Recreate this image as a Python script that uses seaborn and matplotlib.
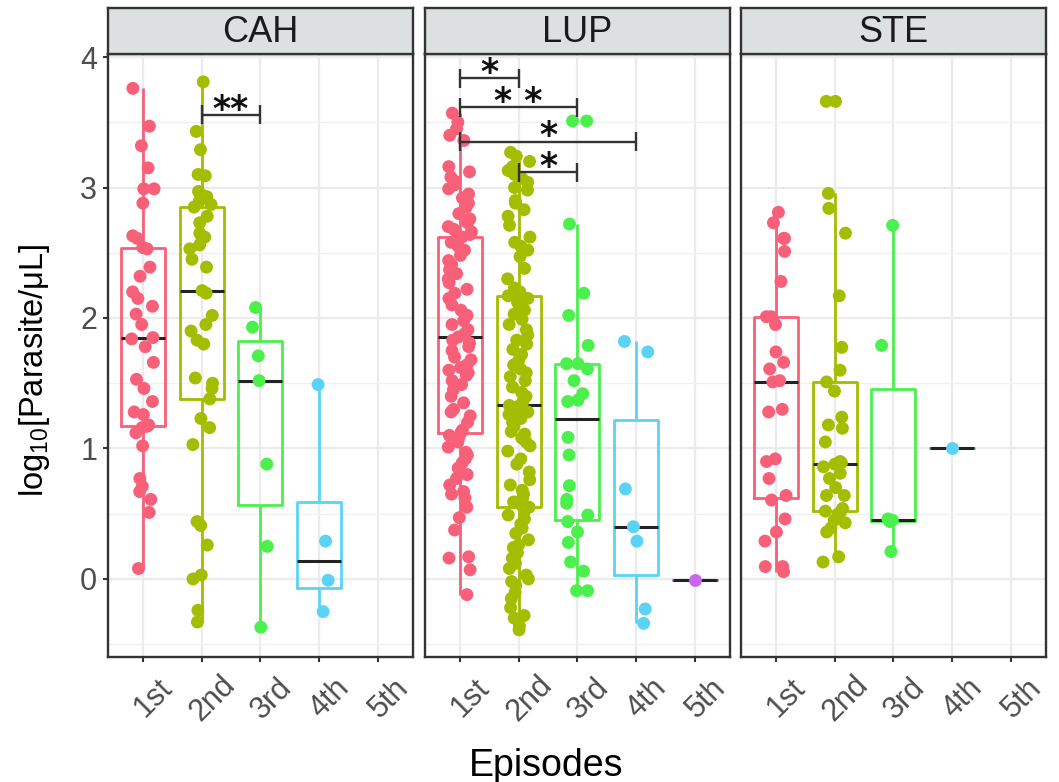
import numpy as np
import pandas as pd
import matplotlib
matplotlib.use("Agg")
import matplotlib.pyplot as plt
import seaborn as sns
from matplotlib.transforms import ScaledTranslation

# ---------------- data ----------------
panels = ["CAH", "LUP", "STE"]
episodes = ["1st", "2nd", "3rd", "4th", "5th"]
colors = ["#F8607A", "#A3BE00", "#4CF04C", "#5BD3F7", "#CB66F0"]

cah_1st = [3.76, 3.47, 3.32, 3.15, 2.99, 2.99, 2.88, 2.63, 2.61, 2.54, 2.53, 2.39, 2.32,
           2.20, 2.15, 2.09, 2.03, 1.95, 1.85, 1.84, 1.78, 1.66, 1.53, 1.46, 1.36, 1.28,
           1.26, 1.18, 1.17, 1.16, 1.12, 1.02, 0.77, 0.71, 0.67, 0.61, 0.51, 0.08]
cah_2nd = [3.81, 3.43, 3.29, 3.10, 3.09, 2.97, 2.95, 2.93, 2.90, 2.87, 2.85, 2.78, 2.73,
           2.65, 2.62, 2.61, 2.56, 2.53, 2.45, 2.39, 2.21, 2.19, 2.02, 1.95, 1.90, 1.83,
           1.80, 1.54, 1.50, 1.46, 1.38, 1.23, 1.16, 1.03, 0.44, 0.41, 0.26, 0.03, 0.00,
           -0.24, -0.33]
cah_3rd = [2.08, 1.93, 1.71, 1.52, 0.88, 0.25, -0.37]
cah_4th = [1.49, 0.29, -0.01, -0.25]
cah_5th = []

lup_1st = [-0.12, 0.07, 0.16, 0.17, 0.375, 0.47, 0.55, 0.62, 0.65, 0.67, 0.72, 0.77, 0.80,
           0.85, 0.89, 0.92, 0.95, 0.97, 1.01, 1.05, 1.09, 1.10, 1.12,
           1.14, 1.20, 1.25, 1.28, 1.30, 1.35, 1.40, 1.45, 1.49, 1.52, 1.56, 1.58, 1.60,
           1.62, 1.64, 1.68, 1.70, 1.75, 1.78, 1.81, 1.83, 1.855,
           1.88, 1.91, 1.95, 1.98, 2.02, 2.06, 2.10, 2.15, 2.19, 2.22, 2.27, 2.30, 2.34,
           2.37, 2.41, 2.44, 2.48, 2.52, 2.55, 2.58, 2.60, 2.62,
           2.64, 2.66, 2.68, 2.70, 2.73, 2.76, 2.80, 2.85, 2.88, 2.92, 2.95, 2.99, 3.02,
           3.05, 3.08, 3.12, 3.16, 3.36, 3.40, 3.45, 3.50, 3.57]
lup_2nd = [-0.39, -0.36, -0.30, -0.28, -0.22, -0.15, -0.10, -0.05, -0.02, 0.00, 0.03, 0.08,
           0.12, 0.16, 0.20, 0.24, 0.26, 0.30, 0.35, 0.39, 0.42, 0.46, 0.49, 0.52, 0.55,
           0.57, 0.59, 0.62, 0.65, 0.68, 0.72, 0.76, 0.82, 0.88, 0.92, 0.98, 1.02, 1.05,
           1.08, 1.11, 1.13, 1.17, 1.20, 1.23, 1.26, 1.28, 1.30, 1.32, 1.33,
           1.36, 1.40, 1.43, 1.47, 1.52, 1.55, 1.58, 1.61, 1.64, 1.68, 1.72, 1.76, 1.80,
           1.83, 1.87, 1.91, 1.95, 1.99, 2.03, 2.06, 2.09, 2.12, 2.15, 2.17,
           2.20, 2.23, 2.30, 2.38, 2.47, 2.52, 2.55, 2.58, 2.62, 2.71, 2.78, 2.83, 2.88,
           2.90, 2.98, 3.00, 3.04, 3.07, 3.10, 3.13, 3.16, 3.20, 3.24, 3.27]
lup_3rd = [3.51, 3.51, 2.72, 2.19, 2.02, 1.79, 1.65, 1.65, 1.61, 1.52, 1.42, 1.37, 1.36,
           1.085, 0.95, 0.715, 0.61, 0.58, 0.49, 0.44, 0.36, 0.28, 0.13, 0.06, -0.09, -0.09]
lup_4th = [1.82, 1.74, 0.69, 0.40, 0.29, -0.23, -0.34]
lup_5th = [-0.01]

ste_1st = [2.81, 2.73, 2.61, 2.61, 2.51, 2.28, 2.01, 2.01, 1.95, 1.74, 1.66, 1.61, 1.52,
           1.51, 1.30, 1.28, 0.92, 0.90, 0.77, 0.64, 0.605, 0.46, 0.36, 0.29, 0.095,
           0.095, 0.056]
ste_2nd = [0.13, 0.17, 0.36, 0.39, 0.43, 0.45, 0.50, 0.51, 0.52, 0.54, 0.64, 0.64, 0.70,
           0.77, 0.81, 0.86, 0.88, 0.89, 0.90, 1.05, 1.155, 1.18, 1.24, 1.44, 1.51, 1.60,
           1.775, 2.17, 2.65, 2.84, 2.955, 3.66, 3.66]
ste_3rd = [0.21, 0.44, 0.45, 0.46, 1.79, 2.71]
ste_4th = [1.00]
ste_5th = []

groups = {
    "CAH": [cah_1st, cah_2nd, cah_3rd, cah_4th, cah_5th],
    "LUP": [lup_1st, lup_2nd, lup_3rd, lup_4th, lup_5th],
    "STE": [ste_1st, ste_2nd, ste_3rd, ste_4th, ste_5th],
}

# significance brackets
br_panel = ["CAH", "LUP", "LUP", "LUP", "LUP"]
br_from = ["2nd", "1st", "1st", "1st", "2nd"]
br_to = ["3rd", "2nd", "3rd", "4th", "3rd"]
br_y = [3.556, 3.837, 3.615, 3.35, 3.116]
br_label = ["**", "*", "* *", "*", "*"]

rows = []
for p in panels:
    for ep, vals in zip(episodes, groups[p]):
        for v in vals:
            rows.append((p, ep, v))
df = pd.DataFrame(rows, columns=["panel", "episode", "value"])
palette = dict(zip(episodes, colors))

# ---------------- style ----------------
sns.set_style("white")
plt.rcParams["font.family"] = ["Liberation Sans", "DejaVu Sans"]
plt.rcParams["mathtext.fontset"] = "custom"
plt.rcParams["mathtext.rm"] = "Liberation Sans"
plt.rcParams["mathtext.it"] = "Liberation Sans:italic"

W, H = 1059, 782
fig = plt.figure(figsize=(W / 100, H / 100), dpi=100)
fig.patch.set_facecolor("white")

lefts = [108, 425, 741]
pw = 305
top_px, bot_px = 53.5, 657
strip_h = 45.2
dark = "#333333"
np.random.seed(7)

axes = {}
for i, p in enumerate(panels):
    ax = fig.add_axes([lefts[i] / W, 1 - bot_px / H, pw / W, (bot_px - top_px) / H])
    axes[p] = ax
    sub = df[df.panel == p]
    sns.boxplot(data=sub, x="episode", y="value", hue="episode", order=episodes,
                hue_order=episodes, palette=palette, fill=False, width=0.75,
                showcaps=False, showfliers=False, whis=1.5, linewidth=2.0,
                medianprops=dict(color="#222222", linewidth=2.2),
                dodge=False, legend=False, ax=ax)
    sns.stripplot(data=sub, x="episode", y="value", hue="episode", order=episodes,
                  hue_order=episodes, palette=palette, jitter=0.2, size=9.3,
                  linewidth=0, dodge=False, legend=False, ax=ax, zorder=4)
    ax.set_xlim(-0.593, 4.6)
    ax.set_ylim(-0.598, 4.027)
    ax.set_yticks([0, 1, 2, 3, 4])
    ax.set_yticks([-0.5, 0.5, 1.5, 2.5, 3.5], minor=True)
    ax.set_xlabel("")
    ax.set_ylabel("")
    ax.set_axisbelow(True)
    ax.grid(which="major", color="#EBEBEB", linewidth=1.6)
    ax.grid(which="minor", axis="y", color="#F1F1F1", linewidth=1.0)
    for s in ax.spines.values():
        s.set_color(dark)
        s.set_linewidth(1.7)
        s.set_visible(True)
    ax.tick_params(axis="both", which="major", length=3.8, width=1.5, color=dark,
                   labelsize=22, labelcolor="#4D4D4D", direction="out")
    ax.tick_params(axis="x", which="major", bottom=True, pad=26)
    ax.tick_params(axis="y", which="minor", length=0)
    if i == 0:
        ax.tick_params(axis="y", left=True, labelleft=True, pad=4)
    else:
        ax.tick_params(axis="y", left=False, labelleft=False)
    off = ScaledTranslation(0.11, 0.0, fig.dpi_scale_trans)
    for lab in ax.get_xticklabels():
        lab.set_rotation(45)
        lab.set_ha("center")
        lab.set_va("center")
        lab.set_rotation_mode("anchor")
        lab.set_transform(lab.get_transform() + off)

    # strip
    sax = fig.add_axes([lefts[i] / W, 1 - top_px / H, pw / W, strip_h / H])
    sax.set_facecolor("#DCE0E0")
    sax.set_xticks([])
    sax.set_yticks([])
    for s in sax.spines.values():
        s.set_color(dark)
        s.set_linewidth(1.7)
    sax.text(0.5, 0.47, p, ha="center", va="center", fontsize=26, color="#1A1A1A",
             transform=sax.transAxes)

# significance brackets
for p, a, b, y, lab in zip(br_panel, br_from, br_to, br_y, br_label):
    ax = axes[p]
    x0, x1 = episodes.index(a), episodes.index(b)
    ax.plot([x0, x1], [y, y], color=dark, lw=1.7, zorder=5, solid_capstyle="butt")
    for xx in (x0, x1):
        ax.plot([xx, xx], [y - 0.073, y + 0.073], color=dark, lw=1.7, zorder=5,
                solid_capstyle="butt")
    ax.text((x0 + x1) / 2, y - 0.035, lab, ha="center", va="baseline", fontsize=25,
            fontweight="bold", family="DejaVu Sans", color="#111111", zorder=6)

fig.text(35 / W, 1 - 370 / H, r"log$_{10}$[Parasite/μL]", rotation=90, ha="center",
         va="center", fontsize=23.5, color="black")
fig.text(546 / W, 1 - 766 / H, "Episodes", ha="center", va="center", fontsize=27,
         color="black")

fig.savefig("out.png", dpi=100, facecolor="white")
